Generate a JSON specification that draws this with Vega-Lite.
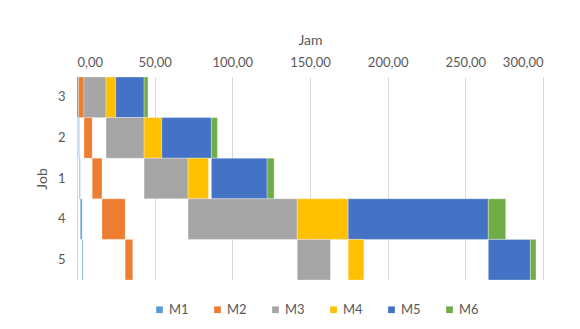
{
  "$schema": "https://vega.github.io/schema/vega-lite/v6.json",
  "width": 466,
  "height": 203,
  "autosize": {"type": "none"},
  "padding": {"left": 77, "top": 77, "right": 37, "bottom": 49},
  "background": "white",
  "config": {
    "view": {"stroke": null},
    "font": "Lato",
    "axis": {"labelFont": "Lato", "titleFont": "Lato", "labelColor": "#595959", "titleColor": "#595959", "labelFontSize": 13, "titleFontSize": 14, "titleFontWeight": "normal"},
    "legend": {"labelFont": "Lato", "labelColor": "#595959", "labelFontSize": 13}
  },
  "data": {
    "values": [
      {"Job": "3", "Mesin": "M1", "Mulai": 0, "Selesai": 1.0},
      {"Job": "3", "Mesin": "M2", "Mulai": 1.0, "Selesai": 4.5},
      {"Job": "3", "Mesin": "M3", "Mulai": 4.5, "Selesai": 18.7},
      {"Job": "3", "Mesin": "M4", "Mulai": 18.7, "Selesai": 24.9},
      {"Job": "3", "Mesin": "M5", "Mulai": 24.9, "Selesai": 43.2},
      {"Job": "3", "Mesin": "M6", "Mulai": 43.2, "Selesai": 45.7},
      {"Job": "2", "Mesin": "M1", "Mulai": 1.0, "Selesai": 1.5},
      {"Job": "2", "Mesin": "M2", "Mulai": 4.5, "Selesai": 9.8},
      {"Job": "2", "Mesin": "M3", "Mulai": 18.7, "Selesai": 43.2},
      {"Job": "2", "Mesin": "M4", "Mulai": 43.2, "Selesai": 54.6},
      {"Job": "2", "Mesin": "M5", "Mulai": 54.6, "Selesai": 86.5},
      {"Job": "2", "Mesin": "M6", "Mulai": 86.5, "Selesai": 90.4},
      {"Job": "1", "Mesin": "M1", "Mulai": 1.5, "Selesai": 2.1},
      {"Job": "1", "Mesin": "M2", "Mulai": 9.8, "Selesai": 16.1},
      {"Job": "1", "Mesin": "M3", "Mulai": 43.2, "Selesai": 71.5},
      {"Job": "1", "Mesin": "M4", "Mulai": 71.5, "Selesai": 84.6},
      {"Job": "1", "Mesin": "M5", "Mulai": 86.5, "Selesai": 122.4},
      {"Job": "1", "Mesin": "M6", "Mulai": 122.4, "Selesai": 126.9},
      {"Job": "4", "Mesin": "M1", "Mulai": 2.1, "Selesai": 3.3},
      {"Job": "4", "Mesin": "M2", "Mulai": 16.1, "Selesai": 31.0},
      {"Job": "4", "Mesin": "M3", "Mulai": 71.5, "Selesai": 141.8},
      {"Job": "4", "Mesin": "M4", "Mulai": 141.8, "Selesai": 174.6},
      {"Job": "4", "Mesin": "M5", "Mulai": 174.6, "Selesai": 264.8},
      {"Job": "4", "Mesin": "M6", "Mulai": 264.8, "Selesai": 276.0},
      {"Job": "5", "Mesin": "M1", "Mulai": 3.3, "Selesai": 3.9},
      {"Job": "5", "Mesin": "M2", "Mulai": 31.0, "Selesai": 35.9},
      {"Job": "5", "Mesin": "M3", "Mulai": 141.8, "Selesai": 163.2},
      {"Job": "5", "Mesin": "M4", "Mulai": 174.6, "Selesai": 184.7},
      {"Job": "5", "Mesin": "M5", "Mulai": 264.8, "Selesai": 291.9},
      {"Job": "5", "Mesin": "M6", "Mulai": 291.9, "Selesai": 295.5}
    ]
  },
  "mark": {"type": "bar", "stroke": "white", "strokeWidth": 0.5, "strokeOpacity": 0.6},
  "encoding": {
    "y": {
      "field": "Job", "type": "nominal", "sort": ["3", "2", "1", "4", "5"],
      "scale": {"paddingInner": 0, "paddingOuter": 0},
      "axis": {"title": "Job", "ticks": false, "domain": false, "labelPadding": 12, "titlePadding": 8, "labelAngle": 0}
    },
    "x": {
      "field": "Mulai", "type": "quantitative",
      "scale": {"domain": [0, 300], "nice": false},
      "axis": {"orient": "top", "title": "Jam", "values": [0, 50, 100, 150, 200, 250, 300], "labelExpr": "replace(format(datum.value, '.2f'), '.', ',')", "ticks": false, "domain": false, "gridColor": "#D9D9D9", "gridWidth": 1, "labelPadding": 8, "titlePadding": 9}
    },
    "x2": {"field": "Selesai"},
    "color": {
      "field": "Mesin", "type": "nominal",
      "scale": {"domain": ["M1", "M2", "M3", "M4", "M5", "M6"], "range": ["#5B9BD5", "#ED7D31", "#A5A5A5", "#FFC000", "#4472C4", "#70AD47"]},
      "legend": {"title": null, "orient": "none", "legendX": 76, "legendY": 226, "direction": "horizontal", "symbolType": "square", "symbolSize": 45, "symbolStrokeWidth": 0, "columnPadding": 22, "labelOffset": 3}
    }
  }
}
